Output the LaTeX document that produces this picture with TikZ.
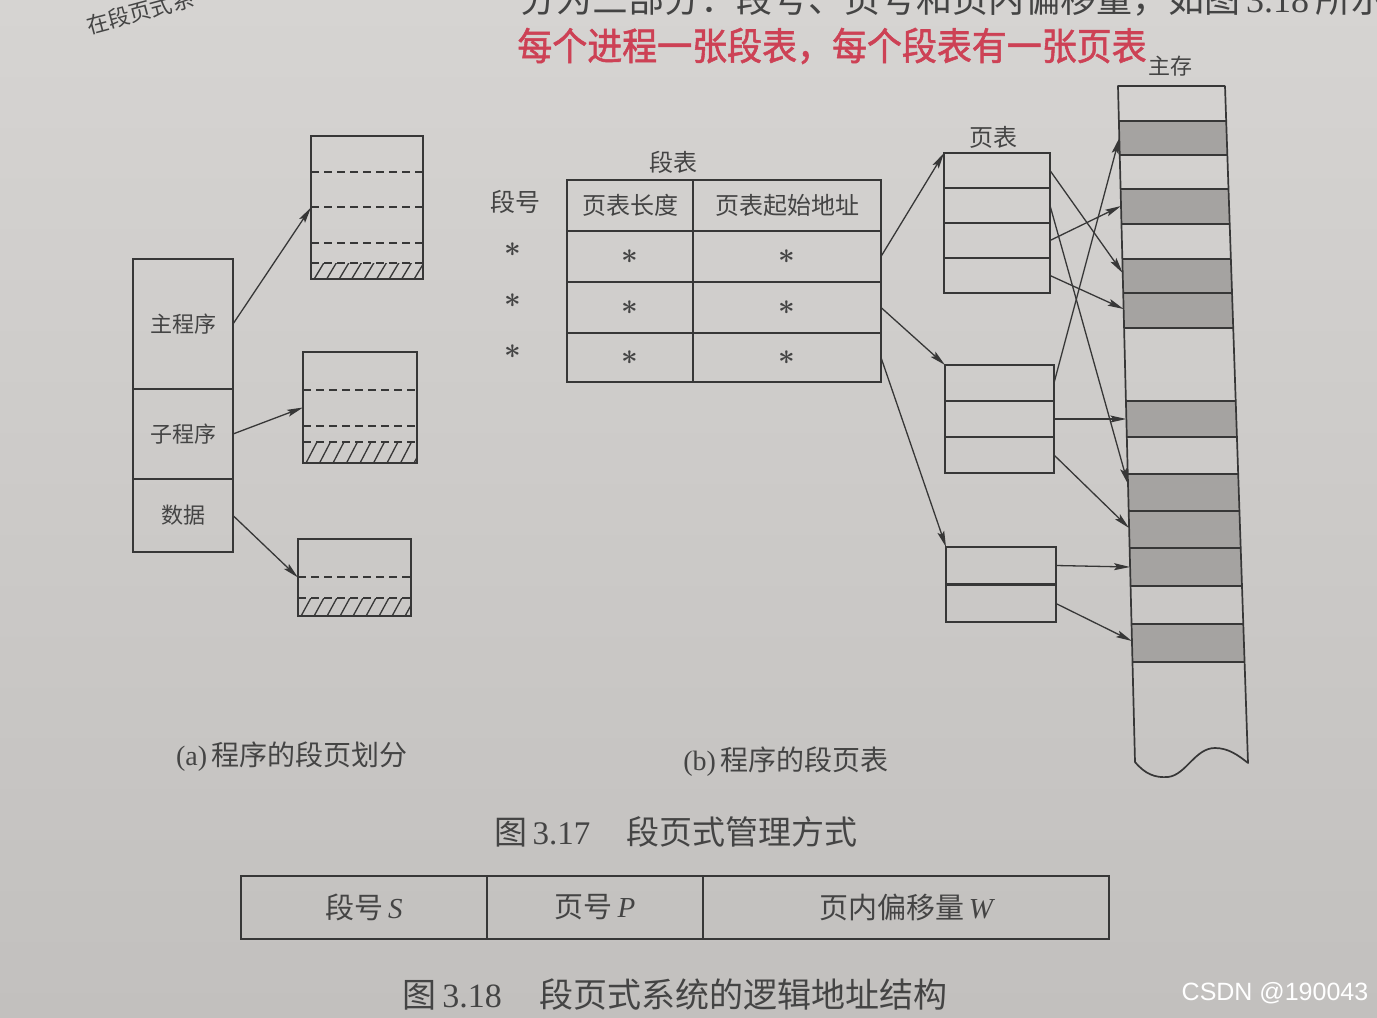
\documentclass[tikz,border=0pt]{standalone}
\usepackage{fontspec}
\setmainfont{Liberation Serif}
\newfontfamily\cjk{Noto Sans CJK SC}
\newfontfamily\penfont[FakeBold=1.5]{Noto Sans CJK SC}
\newfontfamily\wmfont{Liberation Sans}
\usetikzlibrary{arrows.meta,calc}
\definecolor{paperTop}{RGB}{214,212,210}
\definecolor{paperBot}{RGB}{194,192,190}
\definecolor{ink}{RGB}{55,55,55}
\definecolor{shadeblk}{RGB}{165,163,161}
\definecolor{printtext}{RGB}{68,68,68}
\definecolor{pen}{RGB}{205,65,85}
\newcommand{\tabstar}{\scalebox{1.4}{$\boldsymbol{\ast}$}}
\tikzset{
  cellbox/.style={draw=ink, line width=1.7pt, inner sep=0pt, outer sep=0pt, anchor=north west,
    text=printtext, font=\cjk\fontsize{22}{26}\selectfont},
  tablebox/.style={cellbox, line width=2pt},
  memline/.style={draw=ink, line width=1.7pt},
  arr/.style={draw=ink, line width=1.3pt, -{Stealth[length=16pt,width=7pt,inset=3pt]}},
  dashline/.style={draw=ink, line width=1.4pt, dash pattern=on 8pt off 5pt},
  hatchline/.style={draw=ink, line width=1.3pt},
  lbl/.style={text=printtext, inner sep=0pt, font=\cjk\fontsize{23}{27}\selectfont},
  starlbl/.style={text=printtext, inner sep=0pt, font=\fontsize{20}{24}\selectfont},
}
\usepackage{amsmath}
\begin{document}
\begin{tikzpicture}[x=1pt,y=-1pt]
\shade[top color=paperTop, bottom color=paperBot] (0,0) rectangle (1377,1018);
\useasboundingbox (0,0) rectangle (1377,1018);

% page text cut at the top
\node[anchor=base west, inner sep=0pt, text=printtext, font=\cjk\fontsize{36}{40}\selectfont] (topline) at (520,12)
  {分为三部分：段号、页号和页内偏移量，如图\,{\rmfamily 3.18}\,所示};
\node[rotate=15, inner sep=0pt, text=printtext, font=\cjk\fontsize{22}{24}\selectfont] (corner) at (140,12) {在段页式系};

% handwritten note
\node[inner sep=0pt, text=pen, font=\penfont\fontsize{38}{42}\selectfont] (note) at (832,46)
  {\scalebox{0.92}[1]{每个进程一张段表，每个段表有一张页表}};

% (a) program segments
\node[cellbox, minimum width=100pt, minimum height=130pt] (mainprog) at (133,259) {主程序};
\node[cellbox, minimum width=100pt, minimum height=90pt] (subprog) at (133,389) {子程序};
\node[cellbox, minimum width=100pt, minimum height=73pt] (dataseg) at (133,479) {数据};

\node[cellbox, minimum width=112pt, minimum height=143pt] (prog1) at (311,136) {};
\node[cellbox, minimum width=114pt, minimum height=111pt] (prog2) at (303,352) {};
\node[cellbox, minimum width=113pt, minimum height=77pt] (prog3) at (298,539) {};

\foreach \yy in {172,207,243} \draw[dashline] (311,\yy) -- (423,\yy);
\foreach \yy in {390,426} \draw[dashline] (303,\yy) -- (417,\yy);
\draw[dashline] (298,577) -- (411,577);

\begin{scope}
  \clip (311,263) rectangle (423,279);
  \foreach \k in {0,...,9} \draw[hatchline] ({313+\k*12.5},281) -- ++(12,-20);
\end{scope}
\draw[dashline] (311,263) -- (423,263);
\begin{scope}
  \clip (303,442) rectangle (417,463);
  \foreach \k in {0,...,9} \draw[hatchline] ({305+\k*13.5},465) -- ++(13,-25);
\end{scope}
\draw[dashline] (303,442) -- (417,442);
\begin{scope}
  \clip (298,598) rectangle (411,616);
  \foreach \k in {0,...,9} \draw[hatchline] ({300+\k*13},618) -- ++(12,-22);
\end{scope}
\draw[dashline] (298,598) -- (411,598);

\draw[arr] (mainprog.east) -- (prog1.west);
\draw[arr] (subprog.east) -- (prog2.west);
\draw[arr] (dataseg.east) -- (prog3.west);

% (b) segment table
\node[lbl, font=\cjk\fontsize{24}{28}\selectfont] (segtitle) at (673,162) {段表};
\node[lbl, font=\cjk\fontsize{25}{28}\selectfont] (segno) at (515,202) {段号};
\node[tablebox, font=\cjk\fontsize{24}{28}\selectfont, minimum width=126pt, minimum height=51pt] (hlen) at (567,180) {页表长度};
\node[tablebox, font=\cjk\fontsize{24}{28}\selectfont, minimum width=188pt, minimum height=51pt] (hbase) at (693,180) {页表起始地址};
\foreach \r/\yy/\hh in {1/231/51, 2/282/51, 3/333/49} {
  \node[tablebox, font=\fontsize{20}{24}\selectfont, minimum width=126pt, minimum height=\hh pt] (len\r) at (567,\yy) {\tabstar};
  \node[tablebox, font=\fontsize{20}{24}\selectfont, minimum width=188pt, minimum height=\hh pt] (base\r) at (693,\yy) {\tabstar};
  \node[starlbl] (sn\r) at (513,\yy+19) {\tabstar};
}

% page tables
\node[lbl, font=\cjk\fontsize{24}{28}\selectfont] (pttitle) at (993,137) {页表};
\foreach \r/\yy in {a/153,b/188,c/223,d/258}
  \node[cellbox, minimum width=106pt, minimum height=35pt] (pt1\r) at (944,\yy) {};
\foreach \r/\yy in {a/365,b/401,c/437}
  \node[cellbox, minimum width=109pt, minimum height=36pt] (pt2\r) at (945,\yy) {};
\foreach \r/\yy in {a/547,b/585}
  \node[cellbox, minimum width=110pt, minimum height=37pt] (pt3\r) at (946,\yy) {};

\draw[arr] (base1.east) -- (pt1a.north west);
\draw[arr] (base2.east) -- (pt2a.north west);
\draw[arr] (base3.east) -- (pt3a.north west);

% main memory (slightly slanted column, as in the photo)
\node[lbl, font=\cjk\fontsize{22}{26}\selectfont] (memtitle) at (1170,66) {主存};
\foreach \mtop/\mbot in {121/155,189/224,259/293,293/328,401/437,474/511,511/548,548/586,624/662}
  \fill[shadeblk] ({1118+0.025*(\mtop-86)},\mtop) -- ({1225+0.034*(\mtop-86)},\mtop)
     -- ({1225+0.034*(\mbot-86)},\mbot) -- ({1118+0.025*(\mbot-86)},\mbot) -- cycle;
\foreach \yy in {86,121,155,189,224,259,293,328,401,437,474,511,548,586,624,662}
  \draw[memline] ({1118+0.025*(\yy-86)},\yy) -- ({1225+0.034*(\yy-86)},\yy);
\draw[memline, line join=round] (1225,86) -- (1118,86) -- (1135,762)
  .. controls (1145,774) and (1155,778) .. (1168,777)
  .. controls (1186,775) and (1195,748) .. (1215,748)
  .. controls (1228,748) and (1238,755) .. (1248,763)
  -- (1225,86);
\foreach \mi/\yy in {1/138,3/206,5/273,6/309,8/419,10/484,11/528,12/567,14/641}
  \coordinate (m\mi) at ({1118+0.025*(\yy-86)},\yy);

\draw[arr] (pt1a.east) -- (m5);
\draw[arr] (pt1b.east) -- (m10);
\draw[arr] (pt1c.east) -- (m3);
\draw[arr] (pt1d.east) -- (m6);
\draw[arr] (pt2a.east) -- (m1);
\draw[arr] (pt2b.east) -- (m8);
\draw[arr] (pt2c.east) -- (m11);
\draw[arr] (pt3a.east) -- (m12);
\draw[arr] (pt3b.east) -- (m14);

% captions
\node[lbl, font=\cjk\fontsize{28}{32}\selectfont] (capa) at (292,757) {{\rmfamily (a)}\,程序的段页划分};
\node[lbl, font=\cjk\fontsize{28}{32}\selectfont] (capb) at (786,762) {{\rmfamily (b)}\,程序的段页表};
\node[lbl, font=\cjk\fontsize{33}{36}\selectfont] (fig317) at (676,832) {图\,{\rmfamily 3.17}\hspace{1.1em}段页式管理方式};

% logical address structure
\node[tablebox, font=\cjk\fontsize{29}{32}\selectfont, minimum width=246pt, minimum height=63pt] (fs) at (241,876) {段号\,{\rmfamily\itshape S}};
\node[tablebox, font=\cjk\fontsize{29}{32}\selectfont, minimum width=216pt, minimum height=63pt] (fp) at (487,876) {页号\,{\rmfamily\itshape P}};
\node[tablebox, font=\cjk\fontsize{29}{32}\selectfont, minimum width=406pt, minimum height=63pt] (fw) at (703,876) {页内偏移量\,{\rmfamily\itshape W}};
\node[lbl, font=\cjk\fontsize{34}{38}\selectfont] (fig318) at (675,995) {图\,{\rmfamily 3.18}\hspace{1.1em}段页式系统的逻辑地址结构};

\node[inner sep=0pt, text=white, font=\wmfont\fontsize{25}{28}\selectfont] (wmk) at (1275,993) {CSDN @190043};
\end{tikzpicture}
\end{document}
